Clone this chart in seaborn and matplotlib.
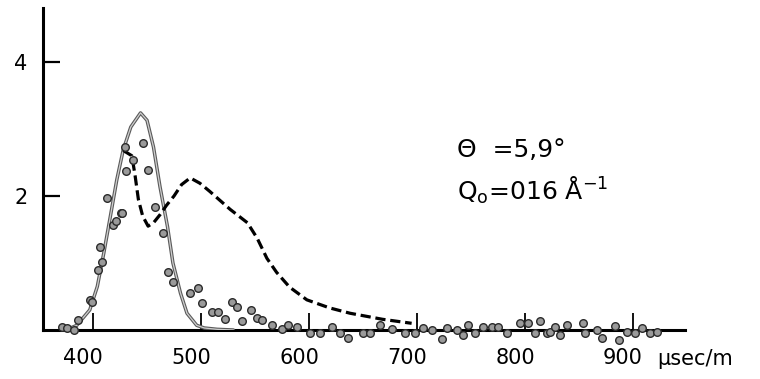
import matplotlib
matplotlib.use("Agg")
import matplotlib.pyplot as plt
import matplotlib.patheffects as pe
import matplotlib.transforms as mtransforms
import seaborn as sns
import pandas as pd

# ---- data ----
solid_x = [375, 385, 397, 404, 410, 416, 422, 428, 435, 444, 450, 456, 462, 469, 474, 481, 487, 496, 503, 515, 530]
solid_y = [0.0, 0.07, 0.3, 0.65, 1.15, 1.69, 2.24, 2.69, 3.03, 3.24, 3.13, 2.73, 2.14, 1.54, 1.0, 0.55, 0.25, 0.07, 0.03, 0.01, 0.0]

dash_x = [428, 436, 439, 442, 446, 451, 456, 462, 468, 475, 482, 490, 499, 508, 527, 543, 552, 561, 570, 582, 598, 619, 638, 668, 695]
dash_y = [2.68, 2.6, 2.3, 1.95, 1.7, 1.55, 1.6, 1.72, 1.86, 2.0, 2.17, 2.27, 2.19, 2.07, 1.8, 1.6, 1.37, 1.07, 0.86, 0.64, 0.45, 0.33, 0.25, 0.16, 0.1]

pts_x = [371, 376, 382, 386, 397, 399, 404.6, 406.5, 408, 413, 418.5, 421, 426, 427, 429.6, 431, 437, 446, 451, 457, 465, 469, 474,
         490, 497, 501, 510, 516, 522, 528.7, 533, 538, 546, 552, 556, 566, 575, 580.5,
         589, 601, 610, 621, 628.7, 636, 650, 656.5, 666, 677, 689, 698,
         705.5, 714, 723, 727.8, 737, 742.6, 747, 753.7, 761, 769, 775, 783, 795, 803, 809, 814, 820,
         823, 828, 832, 839, 854, 855.6, 866.7, 871, 883, 887, 894.4, 902, 908, 915.7, 922]
pts_y = [0.05, 0.03, 0.0, 0.15, 0.45, 0.42, 0.9, 1.24, 1.01, 1.97, 1.57, 1.62, 1.75, 1.75, 2.73, 2.37, 2.54, 2.79, 2.39, 1.84, 1.45, 0.87, 0.72,
         0.55, 0.62, 0.4, 0.27, 0.27, 0.16, 0.42, 0.34, 0.13, 0.3, 0.18, 0.15, 0.07, 0.01, 0.07,
         0.05, -0.04, -0.04, 0.05, -0.04, -0.12, -0.04, -0.04, 0.07, 0.01, -0.04, -0.04,
         0.03, 0.0, -0.13, 0.03, 0.0, -0.07, 0.07, -0.04, 0.05, 0.05, 0.05, -0.04, 0.1, 0.1, -0.04, 0.13, -0.04,
         -0.03, 0.05, -0.07, 0.07, 0.1, -0.04, 0.0, -0.12, 0.06, -0.15, -0.03, -0.04, 0.03, -0.04, -0.03]

x_ticks = [400, 500, 600, 700, 800, 900]
y_ticks = [2, 4]
y_tick_labels = ["2", "4"]
x_unit = "µsec/m"
ann1 = "Θ  =5,9°"
ann2 = r"Q$_{\mathrm{o}}$=016 Å$^{-1}$"

sns.set_style("ticks")
plt.rcParams["font.family"] = ["DejaVu Sans"]
plt.rcParams["text.color"] = "black"

fig = plt.figure(figsize=(7.6, 3.79), dpi=100)
ax = fig.add_axes([43 / 760, (379 - 330) / 379, (685 - 43) / 760, 322 / 379])

solid_df = pd.DataFrame({"x": solid_x, "y": solid_y})
dash_df = pd.DataFrame({"x": dash_x, "y": dash_y})
pts_df = pd.DataFrame({"x": pts_x, "y": pts_y})

sns.lineplot(data=solid_df, x="x", y="y", ax=ax, color="#cfcfcf", lw=0.9, sort=False,
             path_effects=[pe.Stroke(linewidth=2.5, foreground="#5a5a5a"), pe.Normal()], zorder=3)
sns.lineplot(data=dash_df, x="x", y="y", ax=ax, color="black", lw=2.3, sort=False,
             dashes=False, zorder=3).lines[-1].set_dashes((3.2, 1.5))
sns.scatterplot(data=pts_df, x="x", y="y", ax=ax, s=30, color="#9a9a9a", edgecolor="#2a2a2a",
                linewidth=1.0, zorder=4, clip_on=False)

ax.set_xlim(353.7, 948.1)
ax.set_ylim(0, 4.806)
ax.set_xlabel("")
ax.set_ylabel("")
for s in ["top", "right"]:
    ax.spines[s].set_visible(False)
for s in ["left", "bottom"]:
    ax.spines[s].set_linewidth(2.2)
    ax.spines[s].set_color("black")

ax.set_xticks(x_ticks)
ax.set_xticklabels([str(v) for v in x_ticks])
ax.set_yticks(y_ticks)
ax.set_yticklabels(y_tick_labels)
ax.tick_params(axis="x", direction="in", length=12, width=1.3, pad=13, labelsize=15,
               colors="black", labelcolor="black")
ax.tick_params(axis="y", direction="in", length=12, width=1.6, pad=11, labelsize=15,
               colors="black", labelcolor="black")
offset = mtransforms.ScaledTranslation(-10 / 100, 0, fig.dpi_scale_trans)
for lab in ax.get_xticklabels():
    lab.set_transform(lab.get_transform() + offset)

fig.text(657 / 760, 1 - 365 / 379, x_unit, fontsize=15, ha="left", va="baseline", color="black")
ax.text(737, 2.58, ann1, fontsize=18, ha="left", va="baseline", color="black")
ax.text(737, 1.94, ann2, fontsize=18, ha="left", va="baseline", color="black")

fig.savefig("out.png", dpi=100)
